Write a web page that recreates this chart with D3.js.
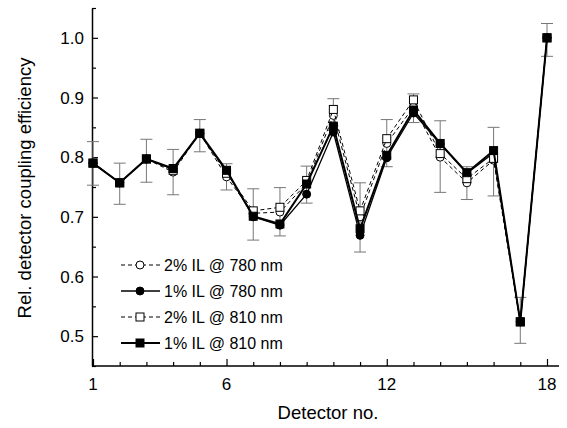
<!DOCTYPE html>
<html>
<head>
<meta charset="utf-8">
<script src="https://cdn.jsdelivr.net/npm/d3@7"></script>
<style>
  body { margin: 0; background: #fff; }
  text { font-family: "Liberation Sans", Arial, sans-serif; fill: #000; }
</style>
</head>
<body>
<script>
// detector numbers and relative coupling efficiency
var detectors = [1, 2, 3, 4, 5, 6, 7, 8, 9, 10, 11, 12, 13, 14, 15, 16, 17, 18];
var il2_780 = [0.790, 0.757, 0.797, 0.775, 0.840, 0.767, 0.706, 0.708, 0.756, 0.870, 0.700, 0.823, 0.884, 0.800, 0.757, 0.795, 0.524, 1.000];
var il1_780 = [0.790, 0.757, 0.797, 0.780, 0.840, 0.776, 0.700, 0.686, 0.738, 0.842, 0.669, 0.799, 0.874, 0.822, 0.773, 0.807, 0.524, 1.000];
var il2_810 = [0.790, 0.757, 0.797, 0.778, 0.840, 0.773, 0.710, 0.716, 0.761, 0.880, 0.710, 0.831, 0.896, 0.806, 0.764, 0.798, 0.524, 1.000];
var il1_810 = [0.790, 0.757, 0.797, 0.781, 0.840, 0.778, 0.701, 0.688, 0.755, 0.852, 0.680, 0.803, 0.879, 0.823, 0.774, 0.811, 0.524, 1.000];
// error bars (drawn once per detector)
var errHi = [0.826, 0.790, 0.830, 0.813, 0.863, 0.789, 0.747, 0.749, 0.785, 0.898, 0.757, 0.863, 0.906, 0.861, 0.784, 0.850, 0.565, 1.024];
var errLo = [0.753, 0.721, 0.758, 0.737, 0.809, 0.745, 0.661, 0.668, 0.723, 0.845, 0.641, 0.784, 0.858, 0.741, 0.729, 0.735, 0.488, 0.969];
var xTickLabels = [1, 6, 12, 18];
var yTickLabels = [0.5, 0.6, 0.7, 0.8, 0.9, 1.0];
var legendLabels = ["2% IL @ 780 nm", "1% IL @ 780 nm", "2% IL @ 810 nm", "1% IL @ 810 nm"];

var width = 567, height = 428;

var xScale = d3.scaleLinear().domain([1, 18]).range([93, 547]);
var yScale = d3.scaleLinear().domain([0.45, 1.05]).range([366, 8]);

var svg = d3.select("body").append("svg")
    .attr("width", width)
    .attr("height", height);

var axisX = xScale(1) - 1;

// y axis, ticks pointing inwards
var yAxis = d3.axisRight(yScale)
    .tickValues(d3.range(0.45, 1.06, 0.05))
    .tickSize(0)
    .tickFormat("");
var yg = svg.append("g").attr("transform", "translate(" + axisX + ",0)").call(yAxis);
yg.select(".domain").attr("stroke", "#000").attr("stroke-width", 1.5);
yg.selectAll(".tick line")
    .attr("x2", function(d) { return Math.abs(Math.round(d * 20) % 2) == 0 ? 0 : 6; })
    .attr("stroke", "#000").attr("stroke-width", 1.2);
yg.selectAll(".tick").each(function(d) {
    var isMajor = Math.round(d * 100) % 10 == 0;
    d3.select(this).select("line").attr("x2", isMajor ? 6 : 4);
});

svg.append("g").selectAll("text")
    .data(yTickLabels)
    .enter().append("text")
    .attr("x", axisX - 8)
    .attr("y", function(d) { return yScale(d); })
    .attr("dy", "0.36em")
    .attr("text-anchor", "end")
    .attr("font-size", 17)
    .text(function(d) { return d.toFixed(1); });

// x axis
var xAxis = d3.axisTop(xScale)
    .tickValues(detectors)
    .tickSize(0)
    .tickFormat("");
var xg = svg.append("g").attr("transform", "translate(0," + yScale(0.45) + ")").call(xAxis);
xg.select(".domain").remove();
xg.append("line")
    .attr("x1", axisX).attr("x2", 559)
    .attr("stroke", "#000").attr("stroke-width", 1.5);
xg.selectAll(".tick line")
    .attr("y2", function(d) { return xTickLabels.indexOf(d) >= 0 ? -7 : -4; })
    .attr("stroke", "#000").attr("stroke-width", 1.2);

svg.append("g").selectAll("text")
    .data(xTickLabels)
    .enter().append("text")
    .attr("x", function(d) { return xScale(d); })
    .attr("y", 390)
    .attr("text-anchor", "middle")
    .attr("font-size", 17)
    .text(function(d) { return d; });

// axis titles
svg.append("text")
    .attr("x", 328).attr("y", 419)
    .attr("text-anchor", "middle")
    .attr("font-size", 18.5)
    .text("Detector no.");

svg.append("text")
    .attr("transform", "translate(31,188) rotate(-90)")
    .attr("text-anchor", "middle")
    .attr("font-size", 18.5)
    .text("Rel. detector coupling efficiency");

// error bars
var eb = svg.append("g").attr("stroke", "#777").attr("stroke-width", 1);
detectors.forEach(function(d, i) {
    var x = xScale(d);
    eb.append("line").attr("x1", x).attr("x2", x).attr("y1", yScale(errHi[i])).attr("y2", yScale(errLo[i]));
    eb.append("line").attr("x1", x - 6).attr("x2", x + 6).attr("y1", yScale(errHi[i])).attr("y2", yScale(errHi[i]));
    eb.append("line").attr("x1", x - 6).attr("x2", x + 6).attr("y1", yScale(errLo[i])).attr("y2", yScale(errLo[i]));
});

var series = [
    { name: legendLabels[0], values: il2_780, dash: "4,3", lw: 1, shape: "circle", fill: "#fff" },
    { name: legendLabels[1], values: il1_780, dash: null, lw: 1.3, shape: "circle", fill: "#000" },
    { name: legendLabels[2], values: il2_810, dash: "4,3", lw: 1, shape: "square", fill: "#fff" },
    { name: legendLabels[3], values: il1_810, dash: null, lw: 2, shape: "square", fill: "#000" }
];

var line = d3.line()
    .x(function(d, i) { return xScale(detectors[i]); })
    .y(function(d) { return yScale(d); });

function drawMarker(g, shape, fill, x, y) {
    if (shape == "circle") {
        g.append("circle").attr("cx", x).attr("cy", y).attr("r", 4)
            .attr("fill", fill).attr("stroke", "#000").attr("stroke-width", 1);
    } else {
        g.append("rect").attr("x", x - 4).attr("y", y - 4).attr("width", 8).attr("height", 8)
            .attr("fill", fill).attr("stroke", "#000").attr("stroke-width", 1);
    }
}

series.forEach(function(s) {
    var g = svg.append("g");
    g.append("path")
        .datum(s.values)
        .attr("d", line)
        .attr("fill", "none")
        .attr("stroke", "#000")
        .attr("stroke-width", s.lw)
        .attr("stroke-dasharray", s.dash);
    s.values.forEach(function(v, i) {
        drawMarker(g, s.shape, s.fill, xScale(detectors[i]), yScale(v));
    });
});

// legend
var legend = svg.append("g");
series.forEach(function(s, i) {
    var y = 265 + i * 26;
    legend.append("line")
        .attr("x1", 121).attr("x2", 160).attr("y1", y).attr("y2", y)
        .attr("stroke", "#000").attr("stroke-width", s.lw)
        .attr("stroke-dasharray", s.dash);
    drawMarker(legend, s.shape, s.fill, 140, y);
    legend.append("text")
        .attr("x", 164).attr("y", y)
        .attr("dy", "0.36em")
        .attr("font-size", 16)
        .text(s.name);
});
</script>
</body>
</html>
